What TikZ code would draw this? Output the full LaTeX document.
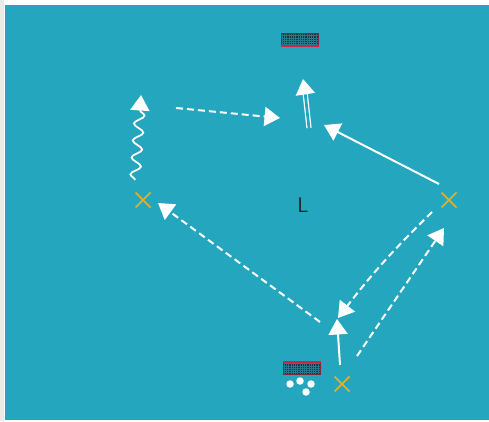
\documentclass[tikz,border=0pt]{standalone}
\usepackage{tikz}
\usetikzlibrary{arrows.meta,shapes.misc,decorations.pathmorphing,calc}
\definecolor{pitch}{RGB}{35,166,190}
\definecolor{cone}{RGB}{232,176,36}
\definecolor{netdark}{RGB}{28,48,62}
\definecolor{netgrid}{RGB}{40,120,140}
\definecolor{netred}{RGB}{205,40,55}
\definecolor{edgegrey}{RGB}{236,234,230}

\begin{document}
\begin{tikzpicture}[x=0.2mm, y=-0.2mm,
  player/.style={cross out, draw=cone, line width=0.3mm, minimum size=2.7mm, inner sep=0pt},
  goal/.style={rectangle, fill=netdark, draw=netred!50!netdark, line width=0.2mm,
    minimum width=7.4mm, minimum height=2.4mm, inner sep=0pt,
    path picture={\draw[netgrid, line width=0.1pt] (path picture bounding box.south west)
      grid[step=0.45mm] (path picture bounding box.north east);}},
  ball/.style={circle, fill=white, minimum size=1.5mm, inner sep=0pt},
  tip/.style={-{Triangle[length=3.1mm, width=3.8mm]}},
  run/.style={tip, white, line width=0.4mm},
  pass/.style={run, dash pattern=on 1.4mm off 0.8mm},
]
\useasboundingbox (0,0) rectangle (489,421);
\fill[white] (0,0) rectangle (489,421);
\fill[edgegrey] (0,0) rectangle (4,421);
\fill[pitch] (5,5) rectangle (489,420);

\node[goal] (goalT) at (300,40) {};
\draw[netred, line width=0.4mm] (goalT.south west) -- (goalT.south east);
\node[goal] (goalB) at (302,368) {};
\draw[netred, line width=0.4mm] (goalB.north west) -- (goalB.north east);

\node[ball] (b1) at (290,384) {};
\node[ball] (b2) at (300,381) {};
\node[ball] (b3) at (311,384) {};
\node[ball] (b4) at (306,392) {};

\node[player] (pL) at (143,200) {};
\node[player] (pR) at (449,200) {};
\node[player] (pB) at (342,384) {};
\node[font=\sffamily\large, text=black!85] (lab) at (303,205) {L};

\coordinate (dribS) at (135,180);
\coordinate (dribE) at (141,95);
\coordinate (passS) at (176,108);
\coordinate (passE) at (280,118);
\coordinate (shotS) at (309,128);
\coordinate (shotM) at (305,92);
\coordinate (shotE) at (303,79);
\coordinate (runS) at (439,184);
\coordinate (runE) at (324,125);
\coordinate (backS) at (320,322);
\coordinate (backE) at (158,203);
\coordinate (layS) at (432,212);
\coordinate (layE) at (338,318);
\coordinate (upS) at (340,365);
\coordinate (upE) at (337,319);
\coordinate (outS) at (357,356);
\coordinate (outE) at (444,228);

\draw[run, line width=0.35mm, decorate, decoration={snake, amplitude=1mm, segment length=3.4mm,
  post length=3mm}] (dribS) -- (dribE);
\draw[pass] (passS) -- (passE);
\draw[white, line width=0.25mm, double=pitch, double distance=0.55mm] (shotS) -- (shotM);
\draw[run] ($(shotM)!0.3!(shotE)$) -- (shotE);
\draw[run] (runS) -- (runE);
\draw[pass] (backS) -- (backE);
\draw[pass] (layS) to[bend right=4] (layE);
\draw[run] (upS) -- (upE);
\draw[pass] (outS) -- (outE);
\end{tikzpicture}
\end{document}
